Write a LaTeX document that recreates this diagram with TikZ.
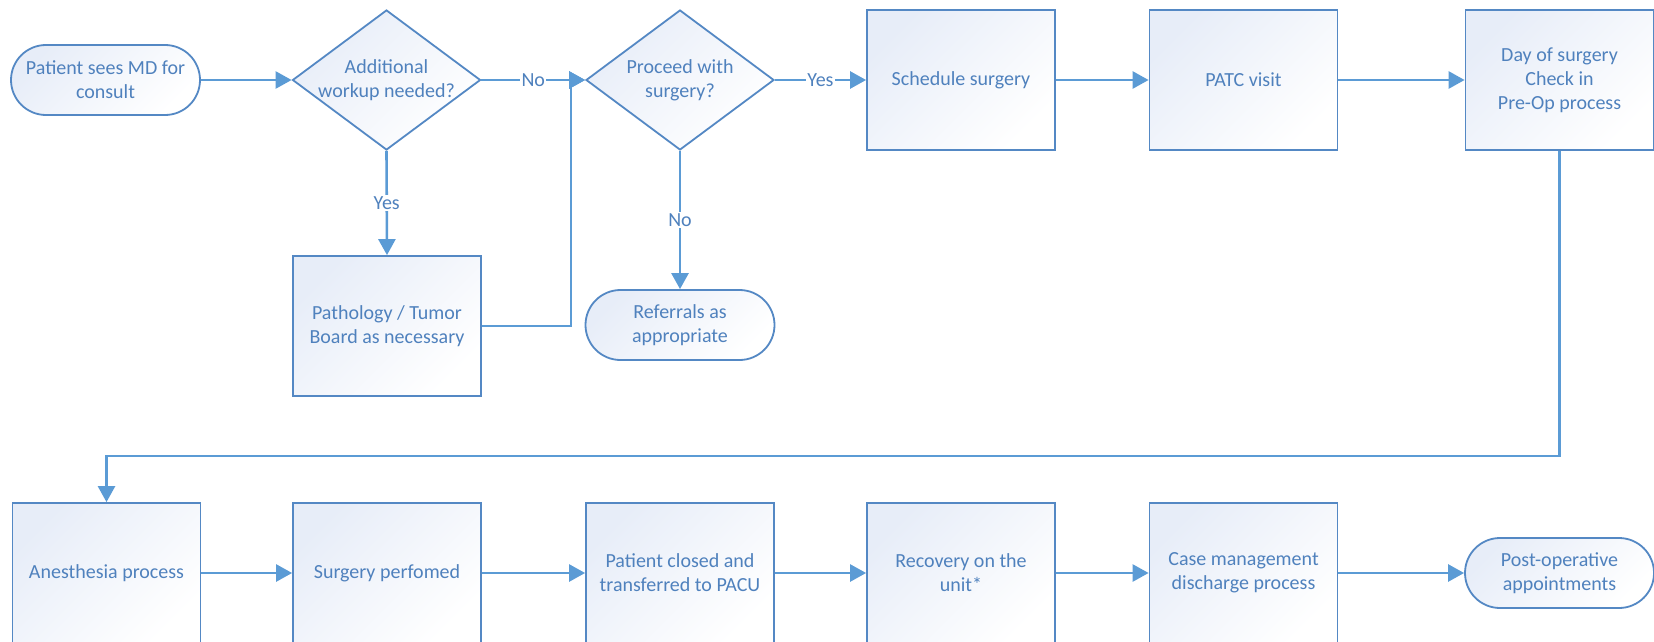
\documentclass[tikz,border=0pt]{standalone}
\usepackage{fontspec}
\setmainfont{Carlito}
\usetikzlibrary{shapes.geometric,arrows.meta}
\definecolor{linec}{RGB}{91,155,213}
\definecolor{borderc}{RGB}{84,136,196}
\definecolor{textc}{RGB}{79,129,189}
\definecolor{fillc}{RGB}{231,237,248}
\begin{document}
\begin{tikzpicture}[x=1pt,y=-1pt,
  base/.style={draw=borderc, line width=1.8pt, top color=fillc, bottom color=white, shading angle=45,
    text=textc, font=\fontsize{20}{24}\selectfont, align=center, inner sep=0pt},
  procbox/.style={base, rectangle, minimum width=188pt, minimum height=140pt},
  term/.style={base, rectangle, rounded corners=35pt, minimum width=189pt, minimum height=70pt},
  decis/.style={base, diamond, minimum width=188pt, minimum height=140pt},
  dtxt/.style={text=textc, font=\fontsize{20}{24}\selectfont, align=center, inner sep=0pt},
  conn/.style={draw=linec, line width=2.6pt, -{Triangle[length=16pt,width=17pt]}},
  lbl/.style={fill=white, text=textc, font=\fontsize{20}{24}\selectfont, inner sep=1.5pt}
]
\useasboundingbox (0,0) rectangle (1654,642);
\fill[white] (0,0) rectangle (1654,642);

% top row
\node[term] (start) at (105.5,80) {Patient sees MD for\\consult};
\node[decis] (d1) at (386.5,80) {};
\node[dtxt] (d1t) at (d1) {Additional\\workup needed?};
\node[decis] (d2) at (680,80) {};
\node[dtxt] (d2t) at (d2) {Proceed with\\surgery?};
\node[procbox] (sched) at (961,80) {Schedule surgery};
\node[procbox] (patc) at (1243.5,80) {PATC visit};
\node[procbox] (day) at (1559.5,80) {Day of surgery\\Check in\\Pre-Op process};

% middle row
\node[procbox] (path) at (387,326) {Pathology / Tumor\\Board as necessary};
\node[term] (ref) at (680,325) {Referrals as\\appropriate};

% bottom row
\node[procbox] (anes) at (106.5,573) {Anesthesia process};
\node[procbox] (surg) at (387,573) {Surgery perfomed};
\node[procbox] (pacu) at (680,573) {Patient closed and\\transferred to PACU};
\node[procbox] (recov) at (961,573) {Recovery on the\\unit*};
\node[procbox] (case) at (1243.5,573) {Case management\\discharge process};
\node[term] (post) at (1559.5,573) {Post-operative\\appointments};

% connectors
\draw[conn] (start.east) -- (d1.west);
\draw[conn] (d1.east) -- node[lbl] (no1) {No} (d2.west);
\draw[conn] (d1.south) -- node[lbl] (yes1) {Yes} (path.north);
\draw[conn] (path.east) -- ++(89,0) |- (d2.west);
\draw[conn] (d2.east) -- node[lbl] (yes2) {Yes} (sched.west);
\draw[conn] (d2.south) -- node[lbl] (no2) {No} (ref.north);
\draw[conn] (sched.east) -- (patc.west);
\draw[conn] (patc.east) -- (day.west);
\draw[conn] (day.south) -- ++(0,305) -| (anes.north);
\draw[conn] (anes.east) -- (surg.west);
\draw[conn] (surg.east) -- (pacu.west);
\draw[conn] (pacu.east) -- (recov.west);
\draw[conn] (recov.east) -- (case.west);
\draw[conn] (case.east) -- (post.west);
\end{tikzpicture}
\end{document}
